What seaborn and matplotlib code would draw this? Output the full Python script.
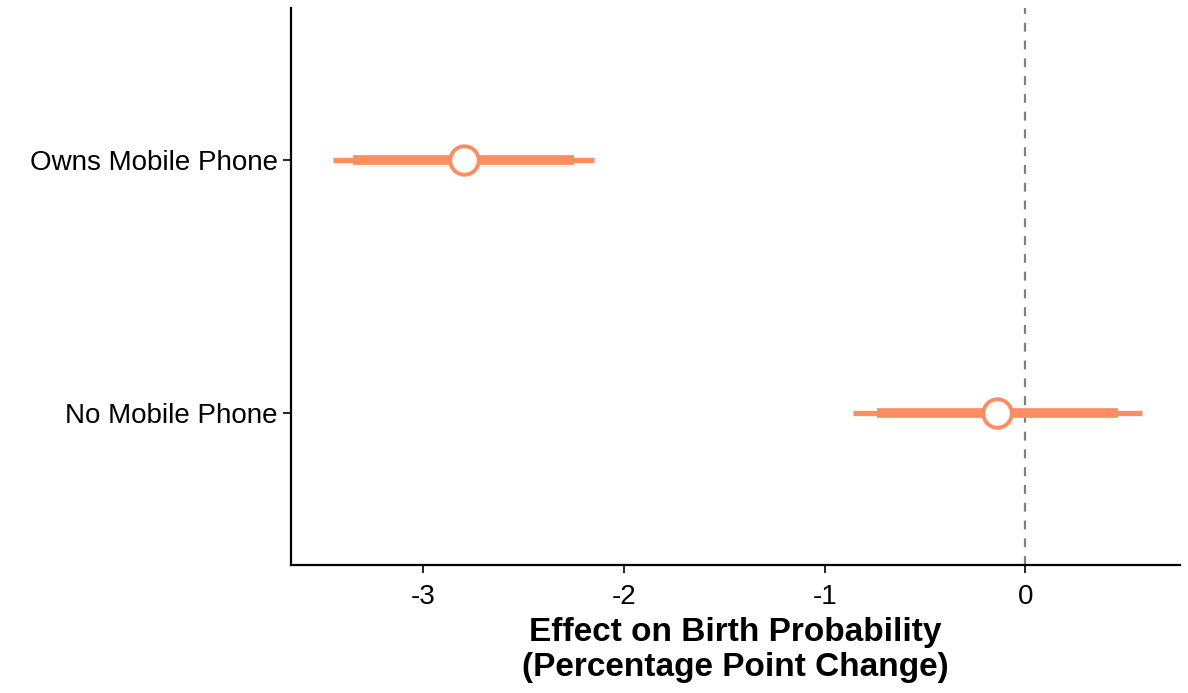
import matplotlib
matplotlib.use("Agg")
import matplotlib.pyplot as plt
import seaborn as sns
import pandas as pd

# --- data ---
groups = ["No Mobile Phone", "Owns Mobile Phone"]
estimate = [-0.14, -2.80]
ci95_low = [-0.86, -3.45]
ci95_high = [0.58, -2.15]
ci90_low = [-0.74, -3.35]
ci90_high = [0.46, -2.25]

df = pd.DataFrame({
    "group": groups,
    "estimate": estimate,
    "lo95": ci95_low,
    "hi95": ci95_high,
    "lo90": ci90_low,
    "hi90": ci90_high,
})

sns.set_style("ticks")
plt.rcParams["font.family"] = ["Liberation Sans", "DejaVu Sans"]

color = "#FC8D62"

fig, ax = plt.subplots(figsize=(11.88, 6.93), dpi=100)
fig.subplots_adjust(left=0.245, right=0.993, top=0.988, bottom=0.185)

# reference line at zero
ax.axvline(0, color="#808080", linestyle=(0, (4, 4)), linewidth=1.6, zorder=1)

# confidence intervals
ax.hlines(df["group"], df["lo95"], df["hi95"], color=color, linewidth=3.8, zorder=2)
ax.hlines(df["group"], df["lo90"], df["hi90"], color=color, linewidth=7, zorder=3)

# point estimates
sns.scatterplot(
    data=df, x="estimate", y="group", ax=ax,
    s=420, color="white", edgecolor=color, linewidth=2.8, zorder=4, legend=False,
)

ax.set_xlim(-3.66, 0.77)
ax.set_ylim(-0.6, 1.6)
ax.set_xticks([-3, -2, -1, 0])
ax.set_xticklabels(["-3", "-2", "-1", "0"])

ax.set_ylabel("")
ax.set_xlabel("Effect on Birth Probability\n(Percentage Point Change)",
              fontsize=24, fontweight="bold", linespacing=1.15, color="black")
ax.tick_params(axis="both", labelsize=20, length=6, width=1.2, color="black",
               labelcolor="black")
ax.tick_params(axis="x", pad=8)
ax.xaxis.labelpad = 5

sns.despine(ax=ax)
for s in ["left", "bottom"]:
    ax.spines[s].set_linewidth(1.6)
    ax.spines[s].set_color("black")

plt.savefig("out.png", dpi=100)
plt.close()
